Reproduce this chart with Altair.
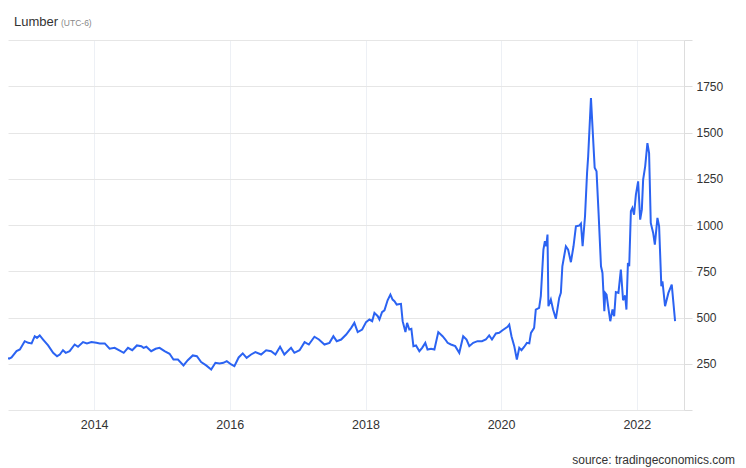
import altair as alt
import pandas as pd

dates = [
    "2012-08-11", "2012-08-29", "2012-09-30", "2012-10-13", "2012-11-09", "2012-11-27", "2012-12-23",
    "2013-01-11", "2013-01-29", "2013-02-15", "2013-02-27", "2013-03-14", "2013-04-01", "2013-04-28",
    "2013-05-25", "2013-06-15", "2013-06-30", "2013-07-17", "2013-08-01", "2013-08-22", "2013-09-18",
    "2013-10-06", "2013-11-02", "2013-11-23", "2013-12-17",
    "2014-01-13", "2014-01-31", "2014-02-27", "2014-03-25", "2014-04-21", "2014-05-14", "2014-06-09",
    "2014-07-02", "2014-07-25", "2014-08-19", "2014-09-12", "2014-09-24", "2014-10-09", "2014-11-04",
    "2014-11-28", "2014-12-19",
    "2015-01-15", "2015-02-11", "2015-03-04", "2015-03-28", "2015-04-27", "2015-05-20", "2015-06-16",
    "2015-07-08", "2015-07-31", "2015-08-27", "2015-09-23", "2015-10-16", "2015-11-07", "2015-11-28",
    "2015-12-16",
    "2016-01-09", "2016-01-26", "2016-02-18", "2016-03-11", "2016-04-01", "2016-04-25", "2016-05-18",
    "2016-06-18", "2016-07-15", "2016-08-11", "2016-09-03", "2016-09-28", "2016-10-21", "2016-11-26",
    "2016-12-14",
    "2017-01-11", "2017-02-07", "2017-03-02", "2017-04-01", "2017-04-25", "2017-05-25", "2017-06-21",
    "2017-07-12", "2017-07-30", "2017-08-23", "2017-09-19", "2017-10-16", "2017-11-02", "2017-11-20",
    "2017-12-14",
    "2018-01-04", "2018-01-22", "2018-02-06", "2018-02-18", "2018-03-08", "2018-03-17", "2018-03-31",
    "2018-04-13", "2018-04-30", "2018-05-15", "2018-05-27", "2018-06-06", "2018-06-18", "2018-07-11",
    "2018-07-20", "2018-08-04", "2018-08-13", "2018-08-25", "2018-09-05", "2018-09-16", "2018-09-30",
    "2018-10-18", "2018-11-02", "2018-11-19", "2018-12-01", "2018-12-20",
    "2019-01-07", "2019-01-28", "2019-02-20", "2019-03-07", "2019-03-19", "2019-04-06", "2019-04-29",
    "2019-05-21", "2019-06-11", "2019-06-29", "2019-07-14", "2019-08-04", "2019-08-27", "2019-09-20",
    "2019-10-11", "2019-10-29", "2019-11-13", "2019-12-04", "2019-12-22",
    "2020-01-09", "2020-02-05", "2020-02-14", "2020-02-26", "2020-03-12", "2020-03-26", "2020-04-08",
    "2020-04-20", "2020-05-05", "2020-05-19", "2020-06-01", "2020-06-10", "2020-06-27", "2020-07-06",
    "2020-07-24", "2020-08-02", "2020-08-16", "2020-08-24", "2020-08-31", "2020-09-07", "2020-09-12",
    "2020-09-25", "2020-10-07", "2020-10-22", "2020-11-09", "2020-11-18", "2020-11-26", "2020-12-15",
    "2020-12-27",
    "2021-01-11", "2021-01-25", "2021-02-07", "2021-02-25", "2021-03-06", "2021-03-15", "2021-03-28",
    "2021-04-08", "2021-04-14", "2021-04-29", "2021-05-19", "2021-05-29", "2021-06-09", "2021-06-22",
    "2021-06-30", "2021-07-10", "2021-07-15", "2021-07-22", "2021-08-02", "2021-08-11", "2021-08-23",
    "2021-09-01", "2021-09-10", "2021-09-24", "2021-10-07", "2021-10-19", "2021-10-30", "2021-11-06",
    "2021-11-14", "2021-11-21", "2021-11-30", "2021-12-08", "2021-12-17", "2021-12-27",
    "2022-01-08", "2022-01-19", "2022-01-28", "2022-02-04", "2022-02-15", "2022-02-27", "2022-03-08",
    "2022-03-17", "2022-03-30", "2022-04-08", "2022-04-22", "2022-05-01", "2022-05-13", "2022-05-19",
    "2022-06-02", "2022-06-20", "2022-07-08", "2022-07-26",
]

prices = [
    309, 291, 277, 284, 318, 327, 372,
    363, 360, 399, 390, 403, 381, 349,
    309, 291, 300, 323, 309, 318, 354,
    342, 367, 360, 367,
    363, 360, 360, 331, 336, 323, 309,
    336, 323, 349, 345, 336, 342, 318,
    331, 336,
    318, 304, 273, 273, 241, 269, 295,
    291, 259, 241, 219, 255, 252, 255,
    264,
    246, 237, 284, 306, 282, 300, 313,
    300, 323, 318, 300, 342, 300, 336,
    309,
    323, 367, 354, 396, 381, 354, 363,
    399, 372, 381, 408, 444, 471, 421,
    435,
    475, 489, 480, 525, 507, 489, 529,
    539, 593, 624, 597, 588, 570, 574,
    480, 421, 471, 435, 439, 345, 349,
    318, 336, 363, 327, 331,
    327, 421, 399, 381, 363, 354, 345,
    309, 399, 381, 345, 363, 372, 372,
    381, 403, 381, 414, 417,
    431, 450, 462, 399, 345, 273, 336,
    323, 342, 363, 360, 417, 444, 543,
    552, 615, 867, 912, 885, 948, 561,
    597, 543, 493, 606, 633, 777, 885,
    867,
    799, 885, 993, 997, 1008, 885, 1047,
    1281, 1371, 1686, 1310, 1290, 1065, 777,
    741, 534, 633, 624, 543, 480, 543,
    507, 637, 633, 759, 593, 619, 543,
    795, 777, 1074, 1092, 1056, 1164,
    1236, 1029, 1083, 1245, 1317, 1443, 1389,
    1011, 957, 894, 1038, 993, 669, 696,
    561, 633, 678, 480,
]

year_ticks = [2014, 2016, 2018, 2020, 2022]
y_ticks = [0, 250, 500, 750, 1000, 1250, 1500, 1750, 2000]
title_text = ["Lumber"]
subtitle_text = ["(UTC-6)"]
source_text = ["source: tradingeconomics.com"]

FONT = "Liberation Sans"

df = pd.DataFrame({"date": dates, "price": prices})

line = alt.Chart(df).mark_line(color="#2b63f2", strokeWidth=2, clip=True).encode(
    x=alt.X(
        "date:T",
        scale=alt.Scale(domain=[alt.DateTime(year=2012, month=9, date=24),
                                alt.DateTime(year=2022, month=9, date=12)]),
        axis=alt.Axis(
            values=[alt.DateTime(year=y, month=1, date=1) for y in year_ticks],
            format="%Y", title=None, ticks=False, domain=False, labelPadding=8,
            grid=True, gridColor="#edf0f5", labelFontSize=12.5, labelColor="#333333",
            labelFont=FONT, labelFlush=False,
        ),
    ),
    y=alt.Y(
        "price:Q",
        scale=alt.Scale(domain=[0, 2000], nice=False),
        axis=alt.Axis(
            orient="right", values=y_ticks, format="d", title=None,
            labelExpr="datum.value == 0 || datum.value == 2000 ? '' : datum.label",
            grid=True, gridColor="#e6e6e6", domainColor="#dddddd", tickColor="#dddddd",
            tickSize=8, labelPadding=4, labelFontSize=12, labelColor="#333333",
            labelFont=FONT, labelBaseline="middle",
        ),
    ),
)

title = alt.Chart(pd.DataFrame({"t": title_text})).mark_text(
    align="left", baseline="alphabetic", font=FONT, fontSize=13, color="#333333"
).encode(text="t:N", x=alt.value(6), y=alt.value(-14))

subtitle = alt.Chart(pd.DataFrame({"t": subtitle_text})).mark_text(
    align="left", baseline="alphabetic", font=FONT, fontSize=8.5, color="#888888"
).encode(text="t:N", x=alt.value(53), y=alt.value(-14.5))

source = alt.Chart(pd.DataFrame({"t": source_text})).mark_text(
    align="right", baseline="alphabetic", font=FONT, fontSize=12, color="#333333"
).encode(text="t:N", x=alt.value(727), y=alt.value(424))

chart = alt.layer(line, title, subtitle, source).properties(
    width=676,
    height=370,
    autosize=alt.AutoSizeParams(type="none"),
    padding={"left": 0, "top": 32, "right": 54, "bottom": 58},
    background="white",
).configure_view(stroke=None)

chart.save("out.html", embed_options={"renderer": "svg", "actions": False})
